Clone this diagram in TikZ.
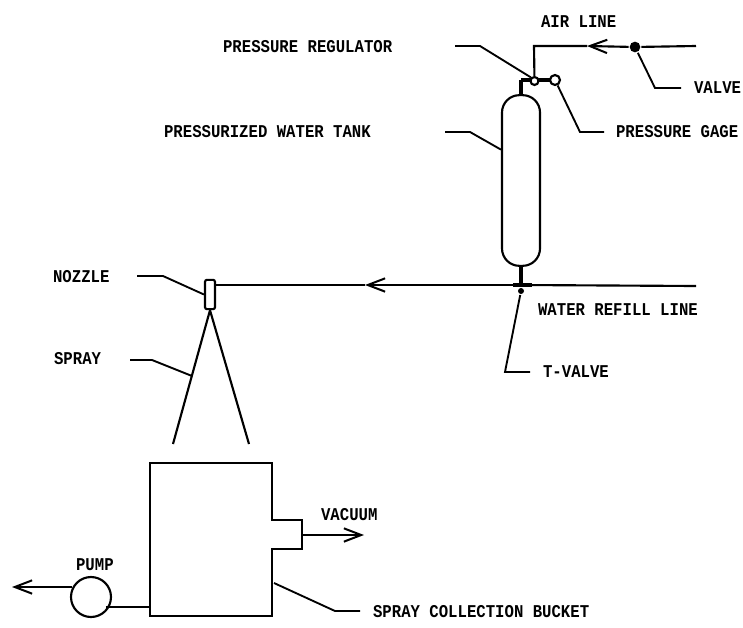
\documentclass[tikz,border=0pt]{standalone}
\usepackage{fontspec}
\setmainfont[FakeStretch=0.87]{Liberation Mono}
\usetikzlibrary{arrows.meta}

\begin{document}
\begin{tikzpicture}[
  x=0.75pt,y=-0.75pt,
  >={Straight Barb[length=13pt,width=10pt,line width=1.5pt]},
  line width=1.6pt,
  lbl/.style={font=\fontsize{13.5}{13.5}\selectfont\bfseries,inner sep=0pt,anchor=west},
  leader/.style={line width=1.4pt},
  heavy/.style={line width=2.6pt},
  tank/.style={draw,rectangle,rounded corners=13pt,minimum width=28.5pt,minimum height=128pt,inner sep=0pt},
  gauge/.style={circle,draw,fill=white,inner sep=0pt},
  dot/.style={circle,fill=black,inner sep=0pt}
]
\useasboundingbox (0,0) rectangle (743,628);

% --- tank and fittings on top ---
\node[tank] (tank) at (521,180.5) {};
\coordinate (neck) at (521,80);
\draw[heavy] (tank.north) -- (neck);
\draw[heavy] (neck) -- (555,80);
\node[gauge,minimum size=6pt] (regulator) at (534.5,81) {};
\node[gauge,minimum size=7.5pt] (gage) at (555,80) {};

% --- air line ---
\node[dot,minimum size=8pt] (valve) at (635,47) {};
\coordinate (airin) at (696,46);
\coordinate (airtip) at (587,46);
\coordinate (aircorner) at (534,46);
\draw (airin) -- (valve);
\draw[->] (valve) -- (airtip);
\draw (airtip) -- (aircorner) -- (regulator);

% --- water line ---
\node[dot,minimum size=4.5pt] (tvalve) at (521,291) {};
\coordinate (tee) at (521,285);
\coordinate (waterin) at (696,286);
\coordinate (watertip) at (365,285);
\node[draw,rounded corners=1.5pt,minimum width=7.5pt,minimum height=22pt,inner sep=0pt] (nozzle) at (210,294.5) {};
\draw (waterin) -- (tee);
\draw[->] (tee) -- (watertip);
\draw (watertip) -- (nozzle.east |- watertip);
\draw[heavy] (tank.south) -- (tee);
\draw[heavy] (513,285) -- (532,285);

% --- spray cone ---
\coordinate (sprayl) at (173,444);
\coordinate (sprayr) at (249,444);
\draw (nozzle.south) -- (sprayl) (nozzle.south) -- (sprayr);

% --- collection bucket ---
\coordinate (bnw) at (150,463);
\coordinate (bne) at (272,463);
\coordinate (bse) at (272,616);
\coordinate (bsw) at (150,616);
\coordinate (port) at (302,535);
\draw[line width=1.7pt] (bnw) -- (bne) -- (272,520) -- (302,520) -- (302,549) -- (272,549)
  -- (bse) -- (bsw) -- cycle;
\coordinate (vacend) at (364,535);
\draw[->] (port) -- (vacend);

% --- pump ---
\node[circle,draw,minimum size=30pt,inner sep=0pt] (pump) at (91,597) {};
\coordinate (pumpin) at (150,607);
\coordinate (pumpout) at (12,587);
\draw (pump.south east |- pumpin) -- (pumpin);
\draw[->] (pump.west |- pumpout) ++(2,0) -- (pumpout);

% --- labels ---
\node[lbl] (lblair) at (540,22) {AIR LINE};
\node[lbl] (lblreg) at (222,47) {PRESSURE REGULATOR};
\node[lbl] (lblvalve) at (693,88) {VALVE};
\node[lbl] (lbltank) at (163,132) {PRESSURIZED WATER TANK};
\node[lbl] (lblgage) at (615,132) {PRESSURE GAGE};
\node[lbl] (lblnozzle) at (52,277) {NOZZLE};
\node[lbl] (lblrefill) at (537,310) {WATER REFILL LINE};
\node[lbl] (lblspray) at (53,359) {SPRAY};
\node[lbl] (lbltv) at (542,372) {T-VALVE};
\node[lbl] (lblvac) at (320,515) {VACUUM};
\node[lbl] (lblpump) at (75,565) {PUMP};
\node[lbl] (lblbucket) at (372,612) {SPRAY COLLECTION BUCKET};

% --- leaders ---
\draw[leader] (455,46) -- (480,46) -- (regulator.north west);
\draw[leader] (valve) -- (655,88) -- (681,88);
\draw[leader] (445,132) -- (470,132) -- (tank.123);
\draw[leader] (gage) -- (580,132) -- (604,132);
\draw[leader] (137,276) -- (163,276) -- (nozzle.west);
\draw[leader] (130,360) -- (152,360) -- (192,376);
\draw[leader] (tvalve) -- (505,372) -- (530,372);
\draw[leader] (274,583) -- (335,611) -- (360,611);
\end{tikzpicture}
\end{document}
